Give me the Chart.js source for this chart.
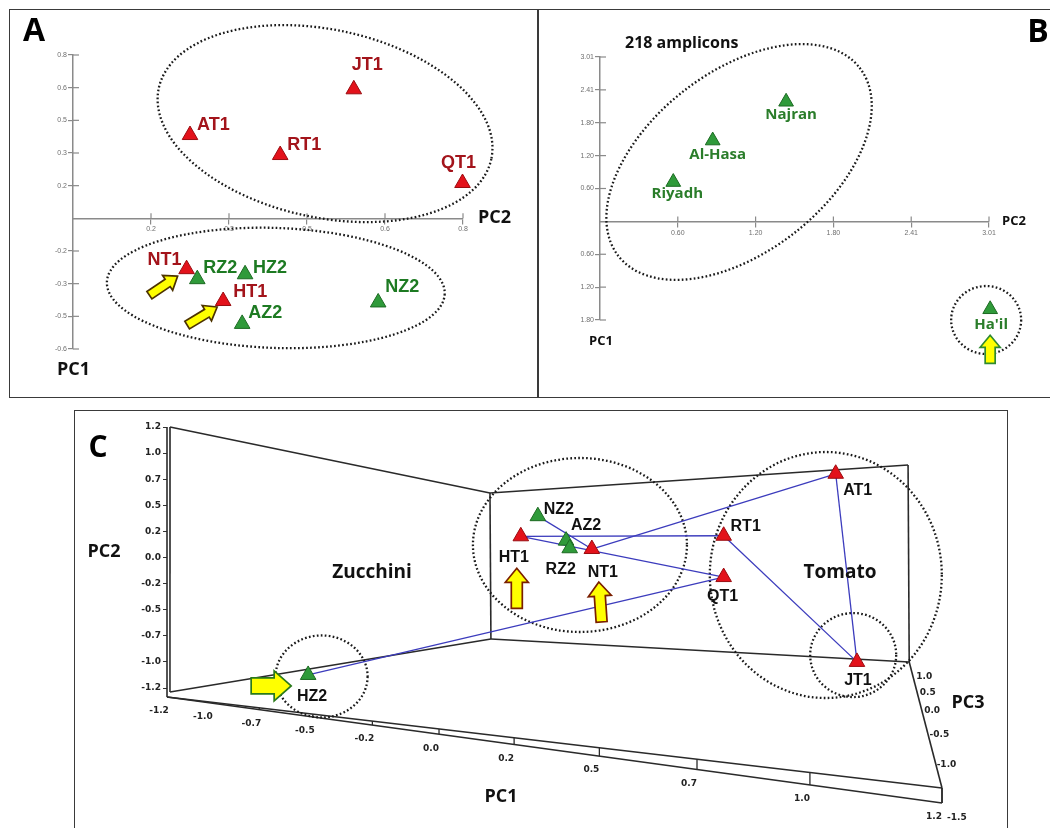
<!DOCTYPE html>
<html><head><meta charset="utf-8">
<script src="https://cdn.jsdelivr.net/npm/chart.js@4.4.1/dist/chart.umd.min.js"></script>
<style>
html,body{margin:0;padding:0;background:#fff;width:1050px;height:828px;overflow:hidden;position:relative;}
.box{position:absolute;border:1.5px solid #3a3a3a;box-sizing:border-box;}
.vline{position:absolute;background:#3a3a3a;}
canvas{position:absolute;}
</style></head><body>
<div class="box" style="left:9px;top:9px;width:1100px;height:389px;"></div>
<div class="vline" style="left:537px;top:9px;width:1.5px;height:389px;"></div>
<div class="box" style="left:74px;top:410px;width:934px;height:460px;"></div>
<canvas id="cA" width="526" height="384" style="left:11px;top:11px"></canvas>
<canvas id="cB" width="508" height="384" style="left:540px;top:11px"></canvas>
<canvas id="cC" width="930" height="417" style="left:76px;top:411px"></canvas>
<script>
// ================= DATA =================
// Panel A: horizontal axis = PC2, vertical axis = PC1
const aTomatoNames   = ['JT1','AT1','RT1','QT1','NT1','HT1'];
const aTomatoPC2     = [0.576, 0.240, 0.425, 0.799, 0.233, 0.308];
const aTomatoPC1     = [0.632, 0.408, 0.310, 0.173, -0.249, -0.405];
const aZucchiniNames = ['RZ2','HZ2','AZ2','NZ2'];
const aZucchiniPC2   = [0.255, 0.353, 0.347, 0.626];
const aZucchiniPC1   = [-0.298, -0.274, -0.517, -0.412];
const aPC2Ticks = [0.16, 0.32, 0.48, 0.64, 0.80];
const aPC1Ticks = [0.80, 0.64, 0.48, 0.32, 0.16, -0.16, -0.32, -0.48, -0.64];

// Panel B: 218 amplicons
const bRegions = ['Najran','Al-Hasa','Riyadh',"Ha'il"];
const bPC2 = [1.44, 0.872, 0.567, 3.019];
const bPC1 = [2.19, 1.48, 0.72, -1.61];
const bPC2Ticks = [0.602, 1.204, 1.806, 2.408, 3.010];
const bPC2TickLabels = ['0.60','1.20','1.80','2.41','3.01'];
const bPC1Ticks = [3.010, 2.408, 1.806, 1.204, 0.602, -0.602, -1.204, -1.806];
const bPC1TickLabels = ['3.01','2.41','1.80','1.20','0.60','-0.60','-1.20','-1.80'];

// Panel C: 3D PCA (PC1 along the floor front edge, PC2 vertical)
const cTomatoNames   = ['AT1','RT1','QT1','HT1','NT1','JT1'];
const cTomatoPC1     = [1.01, 0.78, 0.78, 0.26, 0.46, 1.05];
const cTomatoPC2     = [0.77, 0.20, -0.18, 0.195, 0.078, -0.96];
const cZucchiniNames = ['NZ2','AZ2','RZ2','HZ2'];
const cZucchiniPC1   = [0.31, 0.39, 0.40, -0.50];
const cZucchiniPC2   = [0.38, 0.155, 0.085, -1.08];
const cLinks = [['HT1','RT1'],['HT1','QT1'],['NZ2','NT1'],['NT1','AT1'],['RT1','JT1'],['AT1','JT1'],['HZ2','QT1']];
const cPC1Ticks = [-1.2,-0.96,-0.72,-0.48,-0.24,0,0.24,0.48,0.72,0.96,1.2];
const cPC2Ticks = [1.2,0.96,0.72,0.48,0.24,0,-0.24,-0.48,-0.72,-0.96,-1.2];
const cPC3Ticks = [1.0,0.5,0.0,-0.5,-1.0,-1.5];

// ================= STYLE =================
const RED = '#e3121b', RED_EDGE = '#9a0c10';
const GREEN = '#2f9a3a', GREEN_EDGE = '#1c6a22';
const A_RED_TXT = '#a3141b', A_GREEN_TXT = '#1d7a22', B_GREEN_TXT = '#2a7d2a';
const BLUE = '#3c3cbd';
const YELLOW = '#ffff00';
const AXIS_GRAY = '#8a8a8a';

Chart.defaults.font.family = '"Liberation Sans", Arial, sans-serif';

// perspective scale for the receding PC1 axis of panel C
const PERSPECTIVE = 0.849;
class PerspectiveScale extends Chart.LinearScale {
  getPixelForValue(value) {
    const t = (value - this.min) / (this.max - this.min);
    return this.getPixelForDecimal(t / (1 + PERSPECTIVE * (1 - t)));
  }
  getValueForPixel(pixel) {
    const g = this.getDecimalForPixel(pixel);
    return this.min + (this.max - this.min) * g * (1 + PERSPECTIVE) / (1 + PERSPECTIVE * g);
  }
}
PerspectiveScale.id = 'perspective';
PerspectiveScale.defaults = Chart.LinearScale.defaults;
Chart.register(PerspectiveScale);

// ================= HELPERS =================
function triDataset(label, names, xs, ys, fill, edge, radius, labelColor) {
  return { label, names, labelColor,
    data: names.map((n, i) => ({x: xs[i], y: ys[i]})),
    pointStyle: 'triangle', pointRadius: radius, pointHoverRadius: radius,
    backgroundColor: fill, borderColor: edge, borderWidth: 1, clip: false, order: 0 };
}
function pointMap(chart) {
  const m = {};
  chart.data.datasets.forEach((ds, di) => {
    if (!ds.names) return;
    const meta = chart.getDatasetMeta(di);
    ds.names.forEach((n, i) => { const el = meta.data[i]; m[n] = {x: el.x, y: el.y, color: ds.labelColor}; });
  });
  return m;
}
function dottedEllipse(ctx, cx, cy, rx, ry, rotDeg) {
  ctx.save();
  ctx.beginPath();
  ctx.ellipse(cx, cy, rx, ry, (rotDeg || 0) * Math.PI / 180, 0, 2 * Math.PI);
  ctx.setLineDash([1.7, 2.3]);
  ctx.lineWidth = 2.3;
  ctx.strokeStyle = '#1a1a1a';
  ctx.stroke();
  ctx.restore();
}
function blockArrow(ctx, tipX, tipY, angleDeg, a) {
  ctx.save();
  ctx.translate(tipX, tipY);
  ctx.rotate(angleDeg * Math.PI / 180);
  ctx.beginPath();
  ctx.moveTo(0, 0);
  ctx.lineTo(-a.headL, -a.headW / 2);
  ctx.lineTo(-a.headL, -a.shaftW / 2);
  ctx.lineTo(-a.len, -a.shaftW / 2);
  ctx.lineTo(-a.len, a.shaftW / 2);
  ctx.lineTo(-a.headL, a.shaftW / 2);
  ctx.lineTo(-a.headL, a.headW / 2);
  ctx.closePath();
  ctx.fillStyle = YELLOW; ctx.fill();
  ctx.lineWidth = 1.7; ctx.strokeStyle = a.stroke; ctx.lineJoin = 'miter'; ctx.stroke();
  ctx.restore();
}
function drawArrows(ctx, pts, arrows) {
  arrows.forEach(a => { const p = pts[a.target]; if (p) blockArrow(ctx, p.x + a.dx, p.y + a.dy, a.angle, a); });
}
function drawLabels(ctx, pts, offsets, font, fixedColor) {
  ctx.save();
  ctx.font = font; ctx.textBaseline = 'middle';
  Object.keys(offsets).forEach(name => {
    const p = pts[name]; if (!p) return;
    const [dx, dy, align] = offsets[name];
    ctx.textAlign = align || 'center';
    ctx.fillStyle = fixedColor || p.color;
    ctx.fillText(name, p.x + dx, p.y + dy);
  });
  ctx.restore();
}
function text(ctx, str, x, y, font, color, align) {
  ctx.save(); ctx.font = font; ctx.fillStyle = color || '#111';
  ctx.textAlign = align || 'center'; ctx.textBaseline = 'middle';
  ctx.fillText(str, x, y); ctx.restore();
}
function crossTicks(chart) {
  const {ctx, chartArea, scales: {x, y}} = chart;
  const axisY = y.getPixelForValue(0);
  ctx.save(); ctx.strokeStyle = AXIS_GRAY; ctx.lineWidth = 1.2;
  x.ticks.forEach(t => { const px = x.getPixelForValue(t.value); ctx.beginPath(); ctx.moveTo(px, axisY - 5); ctx.lineTo(px, axisY); ctx.stroke(); });
  y.ticks.forEach(t => { const py = y.getPixelForValue(t.value); ctx.beginPath(); ctx.moveTo(chartArea.left, py); ctx.lineTo(chartArea.left + 6, py); ctx.stroke(); });
  ctx.restore();
}
function planeScales(xTicks, xLabels, yTicks, yLabels, xmin, xmax, ymin, ymax, yw) {
  const tickFont = {family: '"Liberation Sans", Arial', size: 7};
  return {
    x: { type: 'linear', min: xmin, max: xmax, position: {y: 0},
      afterBuildTicks: s => { s.ticks = xTicks.map(v => ({value: v})); },
      ticks: { autoSkip: false, maxRotation: 0, padding: 2, color: '#6f6f6f', font: tickFont,
        callback: (v, i) => xLabels ? xLabels[i] : v.toFixed(1) },
      grid: { drawOnChartArea: false, drawTicks: true, tickLength: 5, color: AXIS_GRAY, lineWidth: 1.2 },
      border: { display: true, color: AXIS_GRAY, width: 1.5 } },
    y: { type: 'linear', min: ymin, max: ymax, position: 'left',
      afterFit: s => { s.width = yw; },
      afterBuildTicks: s => { s.ticks = yTicks.map(v => ({value: v})); },
      ticks: { autoSkip: false, padding: 1, color: '#6f6f6f', font: tickFont,
        callback: (v, i) => yLabels ? yLabels[i] : v.toFixed(1) },
      grid: { drawOnChartArea: false, drawTicks: true, tickLength: 5, color: AXIS_GRAY, lineWidth: 1.2 },
      border: { display: true, color: AXIS_GRAY, width: 1.5 } }
  };
}
const baseOptions = { responsive: false, animation: false, events: [],
  plugins: { legend: { display: false }, tooltip: { enabled: false } } };

// ================= PANEL A =================
const aEllipses = [ {pc2: 0.517, pc1: 0.464, rx: 170, ry: 94, rot: 12},
                    {pc2: 0.416, pc1: -0.341, rx: 169, ry: 60, rot: 2} ];
const aLabelPos = { JT1: [-2, -24, 'left'], AT1: [7, -10, 'left'], RT1: [7, -10, 'left'], QT1: [-4, -20, 'center'],
  NT1: [-5, -9, 'right'], RZ2: [6, -11, 'left'], HZ2: [8, -6, 'left'], HT1: [10, -9, 'left'],
  AZ2: [6, -11, 'left'], NZ2: [7, -15, 'left'] };
const aArrows = [
  {target: 'NT1', dx: -9, dy: 7, angle: -34, len: 34, shaftW: 9, headW: 18, headL: 12, stroke: '#4d3300'},
  {target: 'HT1', dx: -6, dy: 6, angle: -31, len: 35, shaftW: 9, headW: 18, headL: 12, stroke: '#4d3300'} ];
new Chart(document.getElementById('cA'), {
  type: 'scatter',
  data: { datasets: [
    triDataset('Tomato', aTomatoNames, aTomatoPC2, aTomatoPC1, RED, RED_EDGE, 9, A_RED_TXT),
    triDataset('Zucchini', aZucchiniNames, aZucchiniPC2, aZucchiniPC1, GREEN, GREEN_EDGE, 9, A_GREEN_TXT) ] },
  options: Object.assign({}, baseOptions, {
    layout: { padding: { left: 42, right: 74, top: 44, bottom: 46 } },
    scales: planeScales(aPC2Ticks, null, aPC1Ticks, null, 0, 0.8, -0.64, 0.8, 20) }),
  plugins: [{ id: 'panelA',
    beforeDatasetsDraw(chart) {
      const {ctx, scales: {x, y}} = chart;
      crossTicks(chart);
      aEllipses.forEach(e => dottedEllipse(ctx, x.getPixelForValue(e.pc2), y.getPixelForValue(e.pc1), e.rx, e.ry, e.rot));
    },
    afterDatasetsDraw(chart) {
      const {ctx, chartArea, scales: {y}} = chart;
      const pts = pointMap(chart);
      drawArrows(ctx, pts, aArrows);
      drawLabels(ctx, pts, aLabelPos, 'bold 18px "Liberation Sans", Arial');
      text(ctx, 'A', 23, 21, 'bold 32px "Open Sans", sans-serif', '#000');
      text(ctx, 'PC2', chartArea.right + 15, y.getPixelForValue(0), 'bold 18px "Open Sans", sans-serif', '#111', 'left');
      text(ctx, 'PC1', chartArea.left - 16, chartArea.bottom + 21, 'bold 18px "Open Sans", sans-serif', '#111', 'left');
    } }]
});

// ================= PANEL B =================
const bEllipses = [ {pc2: 1.076, pc1: 1.088, rx: 153, ry: 90, rot: -38},
                    {pc2: 2.988, pc1: -1.806, rx: 35, ry: 34, rot: 0} ];
const bLabelPos = { 'Najran': [5, 13], 'Al-Hasa': [5, 14], 'Riyadh': [4, 12], "Ha'il": [1, 15] };
const bArrows = [ {target: "Ha'il", dx: 0, dy: 26, angle: -90, len: 28, shaftW: 10, headW: 20, headL: 12, stroke: '#2f8a2f'} ];
new Chart(document.getElementById('cB'), {
  type: 'scatter',
  data: { datasets: [ triDataset('218 amplicons', bRegions, bPC2, bPC1, GREEN, GREEN_EDGE, 8.5, B_GREEN_TXT) ] },
  options: Object.assign({}, baseOptions, {
    layout: { padding: { left: 40, right: 59, top: 46, bottom: 75 } },
    scales: planeScales(bPC2Ticks, bPC2TickLabels, bPC1Ticks, bPC1TickLabels, 0, 3.01, -1.806, 3.01, 20) }),
  plugins: [{ id: 'panelB',
    beforeDatasetsDraw(chart) {
      const {ctx, scales: {x, y}} = chart;
      crossTicks(chart);
      bEllipses.forEach(e => dottedEllipse(ctx, x.getPixelForValue(e.pc2), y.getPixelForValue(e.pc1), e.rx, e.ry, e.rot));
    },
    afterDatasetsDraw(chart) {
      const {ctx, chartArea, scales: {y}} = chart;
      const pts = pointMap(chart);
      drawArrows(ctx, pts, bArrows);
      drawLabels(ctx, pts, bLabelPos, 'bold 15px "Open Sans", sans-serif');
      text(ctx, '218 amplicons', chartArea.left + 25, chartArea.top - 14, 'bold 16px "Open Sans", sans-serif', '#111', 'left');
      text(ctx, 'B', 498, 22, 'bold 32px "Open Sans", sans-serif', '#000');
      text(ctx, 'PC2', chartArea.right + 13, y.getPixelForValue(0), 'bold 13px "Open Sans", sans-serif', '#111', 'left');
      text(ctx, 'PC1', chartArea.left - 11, chartArea.bottom + 21, 'bold 13px "Open Sans", sans-serif', '#111', 'left');
    } }]
});

// ================= PANEL C =================
// 3D box corners in (PC1, PC2) coordinates of the projected panel
const FRAME = { flt: [-1.2, 1.2], flb: [-1.2, -1.283], ffl: [-1.183, -1.237],
  blt: [0.166, 0.593], blb: [0.169, -0.749], brt: [1.142, 0.851], brb: [1.144, -0.961],
  fru: [1.2, -2.12], frl: [1.2, -2.257] };
const PC3_PERSPECTIVE = 1.0;
const cEllipses = [ {pc1: 0.428, pc2: 0.115, rx: 107, ry: 87}, {pc1: 0.991, pc2: -0.161, rx: 116, ry: 123},
                    {pc1: 1.043, pc2: -0.897, rx: 43, ry: 42}, {pc1: -0.443, pc2: -1.094, rx: 46, ry: 41} ];
const cLabelPos = { AT1: [22, 17], RT1: [22, -9], QT1: [-1, 20], HT1: [-7, 21], NT1: [11, 24], JT1: [1, 19],
  NZ2: [21, -7], AZ2: [20, -15], RZ2: [-9, 21], HZ2: [4, 22] };
const cArrows = [
  {target: 'HT1', dx: -4, dy: 32, angle: -90, len: 40, shaftW: 11, headW: 23, headL: 14, stroke: '#7a1f00'},
  {target: 'NT1', dx: 7, dy: 33, angle: -94, len: 40, shaftW: 11, headW: 23, headL: 14, stroke: '#7a1f00'},
  {target: 'HZ2', dx: -17, dy: 11, angle: 0, len: 40, shaftW: 16, headW: 30, headL: 17, stroke: '#2a7a1a'} ];

const cValue = {};
cTomatoNames.forEach((n, i) => { cValue[n] = {x: cTomatoPC1[i], y: cTomatoPC2[i]}; });
cZucchiniNames.forEach((n, i) => { cValue[n] = {x: cZucchiniPC1[i], y: cZucchiniPC2[i]}; });
const linkDatasets = cLinks.map(([a, b]) => ({ type: 'scatter', data: [cValue[a], cValue[b]], showLine: true,
  borderColor: BLUE, borderWidth: 1.3, pointRadius: 0, pointHoverRadius: 0, clip: false, order: 2 }));

function lineYAt(a, b, x) { return a.y + (b.y - a.y) * (x - a.x) / (b.x - a.x); }

new Chart(document.getElementById('cC'), {
  type: 'scatter',
  data: { datasets: [
    triDataset('Tomato', cTomatoNames, cTomatoPC1, cTomatoPC2, RED, RED_EDGE, 9, '#111'),
    triDataset('Zucchini', cZucchiniNames, cZucchiniPC1, cZucchiniPC2, GREEN, GREEN_EDGE, 9, '#111'),
    ...linkDatasets ] },
  options: Object.assign({}, baseOptions, {
    layout: { padding: { left: 61, right: 64, top: 16, bottom: 140 } },
    scales: {
      x: { type: 'perspective', min: -1.2, max: 1.2, display: false },
      y: { type: 'linear', min: -1.2, max: 1.2, position: 'left',
        afterFit: s => { s.width = 30; },
        afterBuildTicks: s => { s.ticks = cPC2Ticks.map(v => ({value: v})); },
        ticks: { autoSkip: false, padding: 2, color: '#222', font: {family: '"DejaVu Sans"', size: 9, weight: 'bold'},
          callback: v => v.toFixed(1) },
        grid: { drawOnChartArea: false, drawTicks: true, tickLength: 4, color: '#333' },
        border: { display: false } } } }),
  plugins: [{ id: 'panelC',
    beforeDatasetsDraw(chart) {
      const {ctx, scales: {x, y}} = chart;
      const P = k => ({x: x.getPixelForValue(FRAME[k][0]), y: y.getPixelForValue(FRAME[k][1])});
      const F = {}; Object.keys(FRAME).forEach(k => { F[k] = P(k); });
      ctx.save();
      ctx.strokeStyle = '#2a2a2a'; ctx.lineWidth = 1.6; ctx.lineCap = 'butt';
      const seg = (a, b) => { ctx.beginPath(); ctx.moveTo(a.x, a.y); ctx.lineTo(b.x, b.y); ctx.stroke(); };
      const fltIn = {x: F.flt.x + 3, y: F.flt.y};
      seg(F.flt, F.flb);
      seg(fltIn, {x: F.ffl.x, y: F.ffl.y});
      seg(fltIn, F.blt);
      seg(F.blt, F.blb);
      seg(F.blt, F.brt);
      seg(F.brt, F.brb);
      seg(F.blb, F.brb);
      seg(F.ffl, F.blb);
      seg(F.flb, F.fru);
      seg(F.flb, F.frl);
      seg(F.brb, F.fru);
      seg(F.fru, F.frl);
      // PC1 ticks on the receding floor edge
      ctx.lineWidth = 1.3;
      cPC1Ticks.forEach(v => {
        const px = x.getPixelForValue(v);
        const yu = lineYAt(F.flb, F.fru, px), yl = lineYAt(F.flb, F.frl, px);
        seg({x: px, y: yu}, {x: px, y: yl});
        text(ctx, v.toFixed(1), px - 8, yl + 14, 'bold 9px "DejaVu Sans", sans-serif', '#222');
      });
      // PC3 ticks along the right floor edge (front-most label sits below the corner)
      const last = cPC3Ticks.length - 1;
      cPC3Ticks.forEach((v, i) => {
        const t = (cPC3Ticks[0] + 0.5 - v) / 3.0;
        const s = t / (1 + PC3_PERSPECTIVE * (1 - t));
        const px = F.brb.x + (F.frl.x - F.brb.x) * s, py = F.brb.y + (F.frl.y - F.brb.y) * s;
        if (i === last) text(ctx, v.toFixed(1), px + 5, py + 15, 'bold 9px "DejaVu Sans", sans-serif', '#222', 'left');
        else text(ctx, v.toFixed(1), px + 4, py + 2, 'bold 9px "DejaVu Sans", sans-serif', '#222', 'left');
      });
      ctx.restore();
      cEllipses.forEach(e => dottedEllipse(ctx, x.getPixelForValue(e.pc1), y.getPixelForValue(e.pc2), e.rx, e.ry, 0));
    },
    afterDatasetsDraw(chart) {
      const {ctx} = chart;
      const pts = pointMap(chart);
      drawArrows(ctx, pts, cArrows);
      drawLabels(ctx, pts, cLabelPos, 'bold 16px "Liberation Sans", Arial', '#111');
      text(ctx, 'C', 22, 37, 'bold 30px "Open Sans", sans-serif', '#000');
      text(ctx, 'PC2', 28, 141, 'bold 18px "Open Sans", sans-serif', '#111');
      text(ctx, 'PC1', 425, 386, 'bold 18px "Open Sans", sans-serif', '#111');
      text(ctx, 'PC3', 892, 292, 'bold 18px "Open Sans", sans-serif', '#111');
      text(ctx, 'Zucchini', 296, 162, 'bold 19px "Open Sans", sans-serif', '#111');
      text(ctx, 'Tomato', 764, 162, 'bold 19px "Open Sans", sans-serif', '#111');
    } }]
});
</script></body></html>
